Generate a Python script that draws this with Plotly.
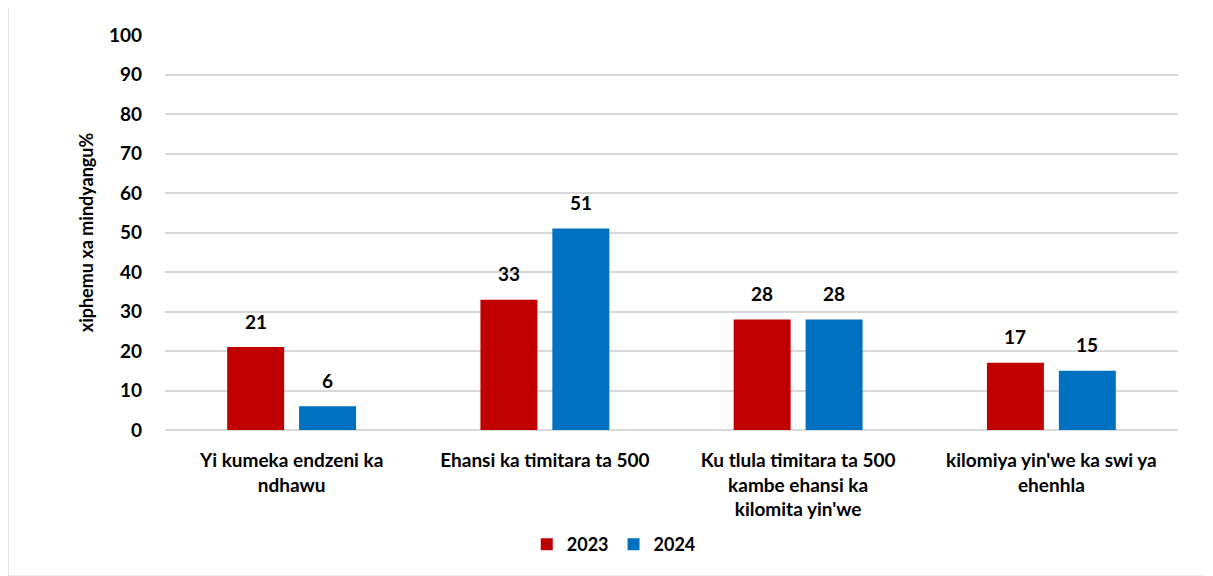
import plotly.graph_objects as go

categories = ["Yi kumeka endzeni ka<br>ndhawu",
              "Ehansi ka timitara ta 500",
              "Ku tlula timitara ta 500<br>kambe ehansi ka<br>kilomita yin'we",
              "kilomiya yin'we ka swi ya<br>ehenhla"]
series_names = ["2023", "2024"]
values_2023 = [21, 33, 28, 17]
values_2024 = [6, 51, 28, 15]
colors = ["#C00000", "#0070C0"]
y_ticks = [0, 10, 20, 30, 40, 50, 60, 70, 80, 90, 100]

FONT = "Lato"
fig = go.Figure()
for name, vals, col in zip(series_names, [values_2023, values_2024], colors):
    fig.add_trace(go.Bar(x=categories, y=vals, name=f"<b>{name}</b>", marker_color=col,
                         marker_line_width=0))

# data labels
for vals, shift in zip([values_2023, values_2024], [-36, 36]):
    for c, v in zip(categories, vals):
        fig.add_annotation(x=c, y=v, text=f"<b>{v}</b>", showarrow=False,
                           xshift=shift, yshift=26, yanchor="middle",
                           font=dict(family=FONT, size=19, color="black"))

# chart border
fig.add_shape(type="rect", xref="paper", yref="paper", x0=-0.155, x1=1.032,
              y0=-0.37, y1=1.076, line=dict(color="#D9D9D9", width=1.5),
              fillcolor="rgba(0,0,0,0)", layer="below")

fig.update_layout(
    width=1205, height=568,
    margin=dict(l=157, r=35, t=27, b=146),
    paper_bgcolor="white", plot_bgcolor="white",
    barmode="group", bargap=0.432, bargroupgap=0.208,
    font=dict(family=FONT, color="black"),
    showlegend=True,
    legend=dict(orientation="h", x=0.443, xanchor="center", y=-0.29,
                yanchor="middle", font=dict(family=FONT, size=18),
                itemwidth=30, traceorder="normal"),
    xaxis=dict(tickfont=dict(family=FONT, size=19), showgrid=False,
               showline=False, ticks="", ticklabelstandoff=17,
               tickvals=categories, ticktext=[f"<b>{c}</b>" for c in categories]),
    yaxis=dict(range=[0, 100], tickvals=y_ticks,
               ticktext=[f"<b>{t}</b>" for t in y_ticks],
               tickfont=dict(family=FONT, size=19),
               showgrid=True, gridcolor="#D9D9D9", gridwidth=1.5,
               zeroline=True, zerolinecolor="#D9D9D9", zerolinewidth=1.5,
               showline=False, ticklabelstandoff=22,
               title=dict(text="<b>xiphemu xa mindyangu%</b>",
                          font=dict(family=FONT, size=18), standoff=10)),
)

fig.write_html("out.html")
